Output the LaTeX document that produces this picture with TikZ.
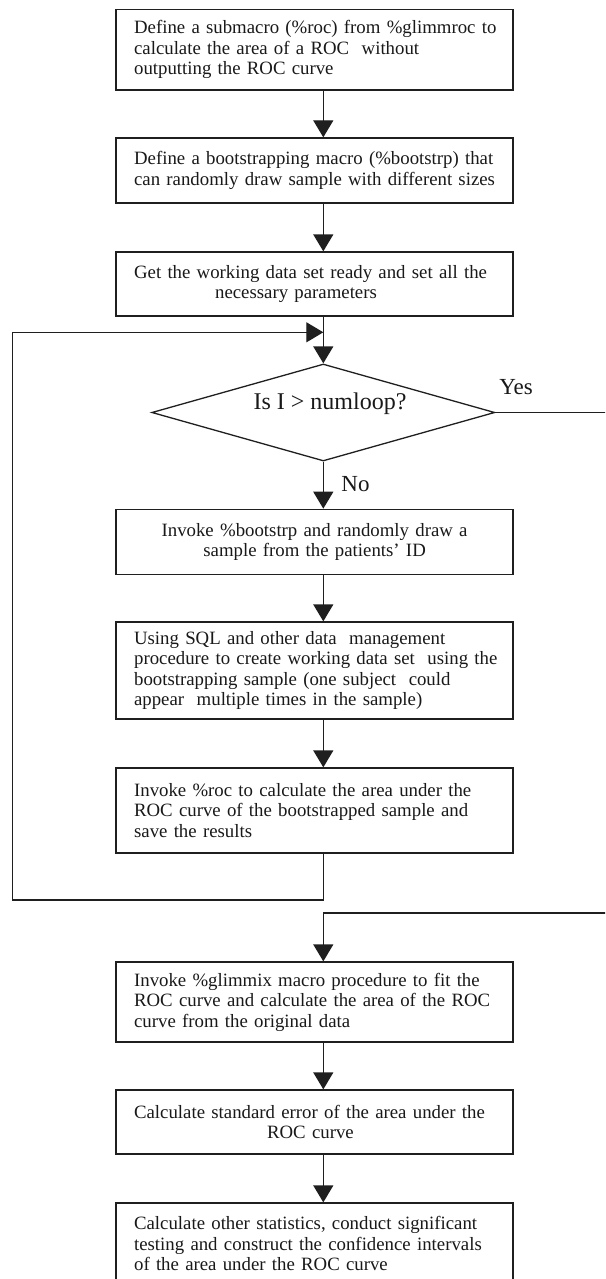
\documentclass[tikz,border=0pt]{standalone}
\usepackage{fontspec}
\setmainfont{Liberation Serif}
\usetikzlibrary{arrows.meta,shapes.geometric}
\tikzset{
  linecol/.style={draw=black!88, line width=1.3pt},
  box/.style={linecol, rectangle, minimum width=397pt, inner xsep=18pt, inner ysep=0pt,
    text width=361pt, align=left, font=\fontsize{18.8}{20.6}\selectfont, text=black!90},
  cbox/.style={box, align=center},
  dia/.style={linecol, diamond, minimum width=343pt, minimum height=97pt, inner sep=0pt},
  lbl/.style={font=\fontsize{23}{25}\selectfont, text=black!90, inner sep=0pt},
  arr/.style={linecol, -{Triangle[length=17pt,width=20pt]}},
  conn/.style={linecol}
}
\begin{document}
\begin{tikzpicture}[x=1pt,y=-1pt]
\useasboundingbox (0,0) rectangle (605,1279);
\fill[white] (0,0) rectangle (605,1279);
\clip (0,0) rectangle (605,1279);
\coordinate (ax) at (323.3,0);

\node[box, minimum height=80.7pt] (b1) at (314.6,49.7)
 {\mbox{Define a submacro (\%roc) from \%glimmroc to}\\\mbox{calculate the area of a ROC\ \ without}\\\mbox{outputting the ROC curve}};
\node[box, minimum height=65pt] (b2) at (314.6,170.5)
 {\mbox{Define a bootstrapping macro (\%bootstrp) that}\\\mbox{can randomly draw sample with different sizes}};
\node[box, minimum height=64pt] (b3) at (314.6,284)
 {\mbox{Get the working data set ready and set all the}\\\hspace*{81pt}\mbox{necessary parameters}};
\node[dia] (d) at (323.3,412.5) {};
\node[lbl, font=\fontsize{24}{26}\selectfont] (dt) at (330,404) {Is I > numloop?};
\node[lbl] (yes) at (516,387) {Yes};
\node[lbl] (no) at (355.5,484) {No};
\node[cbox, minimum height=65pt] (b4) at (314.6,541.8)
 {\mbox{Invoke \%bootstrp and randomly draw a}\\\mbox{sample from the patients’ ID}};
\node[box, minimum height=97pt] (b5) at (314.6,670.5)
 {\mbox{Using SQL and other data\ \ management}\\\mbox{procedure to create working data set\ \ using the}\\\mbox{bootstrapping sample (one subject\ \ could}\\\mbox{appear\ \ multiple times in the sample)}};
\node[box, minimum height=85pt] (b6) at (314.6,810.5)
 {\mbox{Invoke \%roc to calculate the area under the}\\\mbox{ROC curve of the bootstrapped sample and}\\\mbox{save the results}\\[4pt]};
\node[box, minimum height=80pt] (b7) at (314.6,1002)
 {\mbox{Invoke \%glimmix macro procedure to fit the}\\\mbox{ROC curve and calculate the area of the ROC}\\\mbox{curve from the original data}};
\node[box, minimum height=64pt] (b8) at (314.6,1122)
 {\mbox{Calculate standard error of the area under the}\\\hspace*{133pt}\mbox{ROC curve}};
\node[box, minimum height=81pt] (b9) at (314.6,1243.5)
 {\mbox{Calculate other statistics, conduct significant}\\\mbox{testing and construct the confidence intervals}\\\mbox{of the area under the ROC curve}};

\coordinate (loopbl) at (12.5,900);
\coordinate (looptl) at (12.5,332.3);
\coordinate (loopin) at (323.3,332.3);
\coordinate (yr1) at (615,412.5);
\coordinate (yr2) at (615,913);

\draw[arr] (b1.south -| ax) -- (b2.north -| ax);
\draw[arr] (b2.south -| ax) -- (b3.north -| ax);
\draw[arr] (b3.south -| ax) -- (d.north);
\draw[arr] (d.south) -- (b4.north -| ax);
\draw[arr] (b4.south -| ax) -- (b5.north -| ax);
\draw[arr] (b5.south -| ax) -- (b6.north -| ax);
\draw[arr] (b6.south -| ax) |- (loopbl) -- (looptl) -- (loopin);
\draw[arr] (d.east) -- (yr1) -- (yr2) -| (b7.north -| ax);
\draw[arr] (b7.south -| ax) -- (b8.north -| ax);
\draw[arr] (b8.south -| ax) -- (b9.north -| ax);
\end{tikzpicture}
\end{document}
